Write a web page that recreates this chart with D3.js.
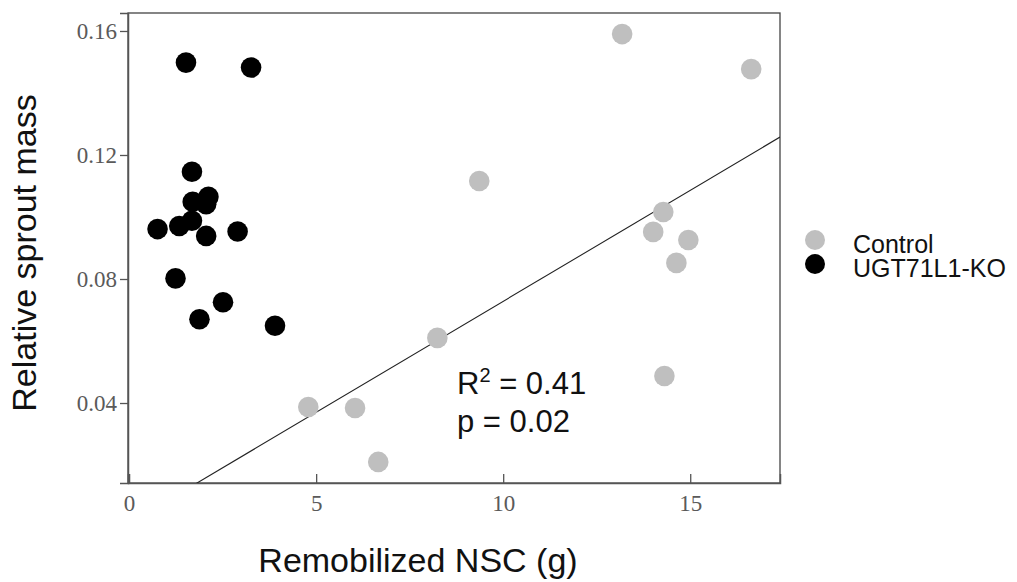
<!DOCTYPE html>
<html>
<head>
<meta charset="utf-8">
<script src="https://cdn.jsdelivr.net/npm/d3@7"></script>
<style>
  body { margin: 0; background: #fff; }
  svg { display: block; }
</style>
</head>
<body>
<div id="chart"></div>
<script>
var width = 1017,
    height = 582;

// Control plants: remobilized NSC (g) vs relative sprout mass
var controlX = [13.18, 16.63, 9.36, 14.28, 14.01, 14.95, 14.63, 8.24, 14.31, 4.79, 6.04, 6.66];
var controlY = [0.159, 0.1477, 0.1116, 0.1016, 0.0952, 0.0926, 0.0852, 0.061, 0.0487, 0.0387, 0.0384, 0.021];

// UGT71L1-KO plants
var koX = [1.52, 3.26, 1.68, 1.70, 2.12, 2.06, 1.68, 1.34, 0.76, 2.06, 2.90, 1.24, 2.51, 1.88, 3.90];
var koY = [0.1498, 0.1482, 0.1146, 0.1049, 0.1065, 0.1041, 0.0988, 0.0971, 0.0961, 0.0939, 0.0953, 0.0802, 0.0725, 0.0670, 0.0649];

var xTicks = [0, 5, 10, 15],
    yTicks = [0.04, 0.08, 0.12, 0.16];

// fitted line
var fitIntercept = 0.0012,
    fitSlope = 0.00716;

var statLines = ["R", "p = 0.02"];
var legendNames = ["Control", "UGT71L1-KO"],
    legendColors = ["#bfbfbf", "#000000"];

var plot = { left: 128, right: 780, top: 13, bottom: 483 };

var x = d3.scaleLinear()
    .domain([-0.03, 17.4])
    .range([plot.left, plot.right]);

var y = d3.scaleLinear()
    .domain([0.0142, 0.1658])
    .range([plot.bottom, plot.top]);

var svg = d3.select("#chart").append("svg")
    .attr("width", width)
    .attr("height", height);

// frame
svg.append("rect")
    .attr("x", plot.left)
    .attr("y", plot.top)
    .attr("width", plot.right - plot.left)
    .attr("height", plot.bottom - plot.top)
    .attr("fill", "none")
    .attr("stroke", "#444")
    .attr("stroke-width", 1.3);

var yAxis = svg.append("g")
    .attr("transform", "translate(" + plot.left + ",0)")
    .call(d3.axisLeft(y).tickValues(yTicks).tickSize(8).tickFormat(d3.format(".2f")));

var xAxis = svg.append("g")
    .attr("transform", "translate(0," + plot.bottom + ")")
    .call(d3.axisBottom(x).tickValues(xTicks).tickSize(-9).tickFormat(d3.format("d")));

[xAxis, yAxis].forEach(function(a) {
  a.select(".domain").attr("stroke", "#555").attr("stroke-width", 1.5);
  a.selectAll(".tick line").attr("stroke", "#555").attr("stroke-width", 1.3);
  a.selectAll(".tick text")
      .attr("font-family", "'Liberation Serif', 'Times New Roman', serif")
      .attr("font-size", 23)
      .attr("fill", "#5a5a5a");
});
yAxis.selectAll(".tick text").attr("x", -11).attr("dy", "0.34em");
xAxis.selectAll(".tick text").attr("y", 12).attr("dy", "0.71em");

// regression line, clipped to the plot box
svg.append("clipPath").attr("id", "clip")
  .append("rect")
    .attr("x", plot.left).attr("y", plot.top)
    .attr("width", plot.right - plot.left)
    .attr("height", plot.bottom - plot.top);

var x0 = x.domain()[0], x1 = x.domain()[1];
svg.append("line")
    .attr("clip-path", "url(#clip)")
    .attr("x1", x(x0)).attr("y1", y(fitIntercept + fitSlope * x0))
    .attr("x2", x(x1)).attr("y2", y(fitIntercept + fitSlope * x1))
    .attr("stroke", "#222")
    .attr("stroke-width", 1.1);

function drawPoints(xs, ys, color) {
  svg.append("g").selectAll("circle")
      .data(d3.zip(xs, ys))
    .enter().append("circle")
      .attr("cx", function(d) { return x(d[0]); })
      .attr("cy", function(d) { return y(d[1]); })
      .attr("r", 10.3)
      .attr("fill", color);
}

drawPoints(controlX, controlY, legendColors[0]);
drawPoints(koX, koY, legendColors[1]);

// stats text
var statFont = "Arial, 'Liberation Sans', sans-serif";
var r2 = svg.append("text")
    .attr("x", 457)
    .attr("y", 394)
    .attr("font-family", statFont)
    .attr("font-size", 31)
    .attr("fill", "#111");
r2.append("tspan").text("R");
r2.append("tspan").attr("dy", -12).attr("font-size", 20).text("2");
r2.append("tspan").attr("dy", 12).text(" = 0.41");

svg.append("text")
    .attr("x", 457)
    .attr("y", 432)
    .attr("font-family", statFont)
    .attr("font-size", 31)
    .attr("fill", "#111")
    .text(statLines[1]);

// axis titles
svg.append("text")
    .attr("transform", "translate(36,253) rotate(-90)")
    .attr("text-anchor", "middle")
    .attr("font-family", statFont)
    .attr("font-size", 34)
    .attr("fill", "#111")
    .text("Relative sprout mass");

svg.append("text")
    .attr("x", 418)
    .attr("y", 572)
    .attr("text-anchor", "middle")
    .attr("font-family", statFont)
    .attr("font-size", 34)
    .attr("fill", "#111")
    .text("Remobilized NSC (g)");

// legend
var legend = svg.append("g").selectAll("g")
    .data(legendNames)
  .enter().append("g")
    .attr("transform", function(d, i) { return "translate(815," + (240 + i * 24) + ")"; });

legend.append("circle")
    .attr("r", 10)
    .attr("fill", function(d, i) { return legendColors[i]; });

legend.append("text")
    .attr("x", 38)
    .attr("y", 13)
    .attr("font-family", statFont)
    .attr("font-size", 25)
    .attr("fill", "#111")
    .text(function(d) { return d; });
</script>
</body>
</html>
